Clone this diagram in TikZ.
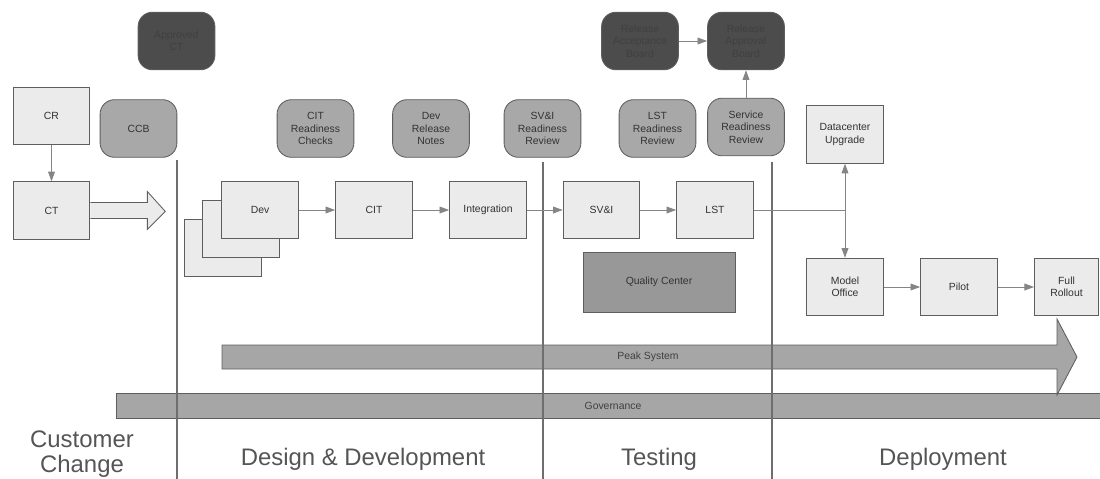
\documentclass[tikz,border=0pt]{standalone}
\usepackage{fontspec}
\setmainfont{Liberation Sans}
\usetikzlibrary{arrows.meta, positioning, calc}
\definecolor{lightfill}{HTML}{EBEBEB}
\definecolor{midfill}{HTML}{A8A8A8}
\definecolor{darkfill}{HTML}{4C4C4C}
\definecolor{qcfill}{HTML}{989898}
\definecolor{barfill}{HTML}{A6A6A6}
\definecolor{edgegray}{HTML}{5E5E5E}
\definecolor{linkgray}{HTML}{858585}
\definecolor{titlegray}{HTML}{555555}
\tikzset{
  basebox/.style={
    rectangle, draw=edgegray, line width=0.6pt, minimum width=1.92cm, minimum height=1.44cm,
    align=center, font=\fontsize{7.4}{8.8}\selectfont, text=black!80, inner sep=1pt
  },
  stepbox/.style={basebox, fill=lightfill},
  reviewbox/.style={basebox, rounded corners=0.36cm, fill=midfill},
  boardbox/.style={basebox, rounded corners=0.36cm, fill=darkfill, text=black!75},
  link/.style={-{Triangle[length=2.4mm, width=1.7mm]}, draw=linkgray, line width=0.6pt},
  phase/.style={font=\fontsize{17}{18}\selectfont, text=titlegray, align=center},
  divider/.style={draw=edgegray!90, line width=1pt},
  bar/.style={draw=edgegray, line width=0.6pt, fill=barfill}
}

\begin{document}
\begin{tikzpicture}[x=0.025cm, y=-0.025cm]
    \useasboundingbox (0,0) rectangle (1100,479);
    
    % Boards on top
    \node[boardbox] (approved) at (176.5,41) {Approved\\CT};
    \node[boardbox] (accboard) at (640,41) {Release\\Acceptance\\Board};
    \node[boardbox] (appboard) at (746,41) {Release\\Approval\\Board};
    
    % Customer change
    \node[stepbox] (cr) at (51.5,116) {CR};
    \node[stepbox] (ct) at (51.5,210.5) {CT};
    \node[reviewbox] (ccb) at (138.5,128.5) {CCB};
    
    % Reviews
    \node[reviewbox] (citrc) at (315.5,128.5) {CIT\\Readiness\\Checks};
    \node[reviewbox] (devrn) at (431,128.5) {Dev\\Release\\Notes};
    \node[reviewbox] (svirr) at (542.5,128.5) {SV\&I\\Readiness\\Review};
    \node[reviewbox] (lstrr) at (657.5,128.5) {LST\\Readiness\\Review};
    \node[reviewbox] (srr) at (746,127) {Service\\Readiness\\Review};
    
    % Main flow
    \node[stepbox] (devback) at (223,248) {};
    \node[stepbox] (devmid) at (241,229) {};
    \node[stepbox] (dev) at (260,210) {Dev};
    \node[stepbox] (cit) at (374,210) {CIT};
    \node[stepbox] (integ) at (488,210) {Integration};
    \node[stepbox] (svi) at (601.5,210) {SV\&I};
    \node[stepbox] (lst) at (715,210) {LST};
    \node[basebox, fill=qcfill, minimum width=3.8cm, minimum height=1.5cm] (qc) at (659,282) {Quality Center};
    
    % Deployment
    \node[stepbox] (dcu) at (845,134.5) {Datacenter\\Upgrade};
    \node[stepbox] (mo) at (845,287) {Model\\Office};
    \node[stepbox] (pilot) at (959,287) {Pilot};
    \node[stepbox, minimum width=1.6cm] (full) at (1066.5,287) {Full\\Rollout};
    \coordinate (lstend) at (dcu.south |- lst.east);
    
    % Bars
    \draw[bar] (116,393) rectangle (1100,418);
    \node[font=\fontsize{7.4}{8.8}\selectfont, text=black!75] (gov) at (613,405.5) {Governance};
    \draw[bar] (222,345) -- (1057,345) -- (1057,319) -- (1077,357) -- (1057,395) -- (1057,369) -- (222,369) -- cycle;
    \node[font=\fontsize{7.4}{8.8}\selectfont, text=black!75] (peak) at (648,357) {Peak System};
    
    % CT hand-over arrow
    \draw[draw=edgegray, line width=0.6pt, fill=lightfill]
      ($(ct.east)+(0,-8)$) -- ++(57,0) -- ++(0,-11) -- ++(18,20) -- ++(-18,18) -- ++(0,-11) -- ($(ct.east)+(0,8)$);
    
    % Phase dividers
    \draw[divider] (177,160) -- (177,479);
    \draw[divider] (543,162) -- (543,479);
    \draw[divider] (772,162) -- (772,479);
    
    % Connectors
    \draw[link] (cr) -- (ct);
    \draw[link] (accboard) -- (appboard);
    \draw[link] (srr) -- (appboard);
    \draw[link] (dev) -- (cit);
    \draw[link] (cit) -- (integ);
    \draw[link] (integ) -- (svi);
    \draw[link] (svi) -- (lst);
    \draw[draw=linkgray, line width=0.6pt] (lst) -- (lstend);
    \draw[link, {Triangle[length=2.4mm, width=1.7mm]}-{Triangle[length=2.4mm, width=1.7mm]}] (dcu) -- (mo);
    \draw[link] (mo) -- (pilot);
    \draw[link] (pilot) -- (full);
    
    % Phase titles
    \node[phase] (custtitle) at (82,454) {Customer\\Change};
    \node[phase] (devtitle) at (363,459) {Design \& Development};
    \node[phase] (testtitle) at (659,459) {Testing};
    \node[phase] (deptitle) at (943,459) {Deployment};
    
\end{tikzpicture}
\end{document}
